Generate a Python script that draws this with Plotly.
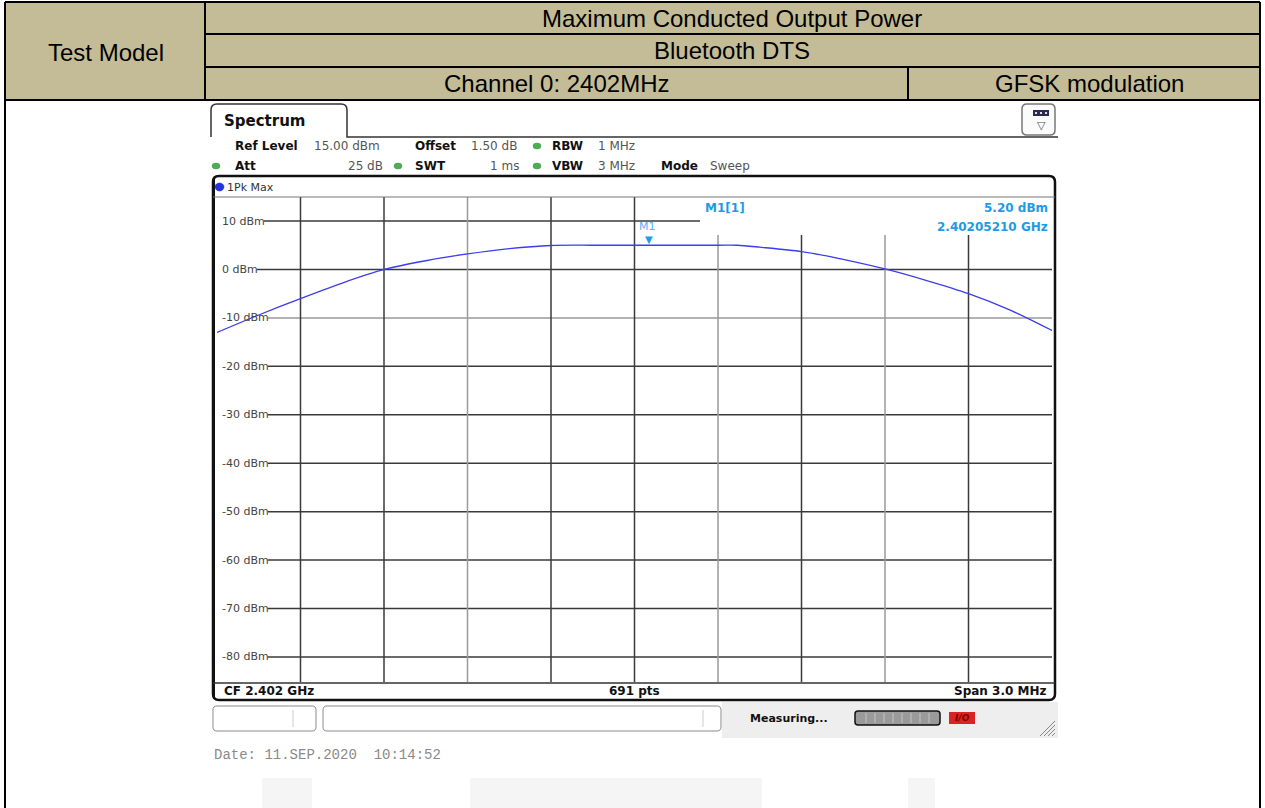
import plotly.graph_objects as go

W, H = 1265, 808

# ---------------- data ----------------
freq_mhz = [2400.50, 2400.65, 2400.80, 2400.95, 2401.10, 2401.25, 2401.40, 2401.55,
            2401.70, 2401.85, 2402.00, 2402.05, 2402.15, 2402.30, 2402.37, 2402.45,
            2402.60, 2402.75, 2402.90, 2403.05, 2403.20, 2403.35, 2403.50]
level_dbm = [-13.0, -9.4, -6.0, -2.8, 0.0, 1.8, 3.2, 4.3,
             4.95, 5.0, 5.0, 5.0, 5.0, 5.0, 5.0, 4.6,
             3.7, 2.1, 0.1, -2.3, -5.0, -8.4, -12.6]
y_tick_vals = [10, 0, -10, -20, -30, -40, -50, -60, -70, -80]
y_tick_text = ["10 dBm", "0 dBm", "-10 dBm", "-20 dBm", "-30 dBm", "-40 dBm",
               "-50 dBm", "-60 dBm", "-70 dBm", "-80 dBm"]
x_grid_mhz = [2400.8, 2401.1, 2401.4, 2401.7, 2402.0, 2402.3, 2402.6, 2402.9, 2403.2]
x_range = [2400.5, 2403.5]
y_range = [-85, 15]
marker_freq_mhz = 2402.0521
marker_level = 5.20

header_title = "Maximum Conducted Output Power"
header_mode = "Bluetooth DTS"
header_channel = "Channel 0: 2402MHz"
header_mod = "GFSK modulation"
header_left = "Test Model"

# ---------------- helpers ----------------
def PX(x):
    return x / W

def PY(y):
    return 1 - y / H

shapes = []
ann = []

def line(x0, y0, x1, y1, color="black", width=2, layer="above"):
    shapes.append(dict(type="line", xref="paper", yref="paper",
                       x0=PX(x0), y0=PY(y0), x1=PX(x1), y1=PY(y1),
                       line=dict(color=color, width=width), layer=layer))

def rect(x0, y0, x1, y1, fill, color=None, width=0, layer="below"):
    shapes.append(dict(type="rect", xref="paper", yref="paper",
                       x0=PX(x0), y0=PY(y0), x1=PX(x1), y1=PY(y1),
                       fillcolor=fill,
                       line=dict(color=color or fill, width=width), layer=layer))

def rrect(x0, y0, x1, y1, r, color, width, fill=None, layer="above"):
    pts = [("M", x0 + r, y0), ("L", x1 - r, y0), ("Q", x1, y0, x1, y0 + r),
           ("L", x1, y1 - r), ("Q", x1, y1, x1 - r, y1), ("L", x0 + r, y1),
           ("Q", x0, y1, x0, y1 - r), ("L", x0, y0 + r), ("Q", x0, y0, x0 + r, y0)]
    p = ""
    for seg in pts:
        if seg[0] == "Q":
            p += "Q%f,%f %f,%f " % (PX(seg[1]), PY(seg[2]), PX(seg[3]), PY(seg[4]))
        else:
            p += "%s%f,%f " % (seg[0], PX(seg[1]), PY(seg[2]))
    p += "Z"
    d = dict(type="path", xref="paper", yref="paper", path=p,
             line=dict(color=color, width=width), layer=layer)
    if fill:
        d["fillcolor"] = fill
    shapes.append(d)

def text(x, y, s, size=12, color="black", bold=False, family="DejaVu Sans", anchor="left"):
    ann.append(dict(xref="paper", yref="paper", x=PX(x), y=PY(y),
                    text=("<b>%s</b>" % s) if bold else s, showarrow=False,
                    xanchor=anchor, yanchor="middle",
                    font=dict(size=size, color=color, family=family)))

# ---------------- table header ----------------
KHAKI = "#C4BC96"
rect(5, 2, 1260, 100, KHAKI)
for (a, b, c, d) in [(5, 2, 1260, 2), (5, 2, 5, 808), (1260, 2, 1260, 808),
                     (5, 100, 1260, 100), (205, 34, 1260, 34), (205, 67, 1260, 67),
                     (205, 2, 205, 100), (908, 67, 908, 100)]:
    line(a, b, c, d, "black", 2)

TF = "Liberation Sans, Arial, sans-serif"
HS = 24
text(106, 52, header_left, HS, "black", family=TF, anchor="center")
text(732, 18, header_title, HS, "black", family=TF, anchor="center")
text(732, 51, header_mode, HS, "black", family=TF, anchor="center")
text(556, 84, header_channel, HS, "black", family=TF, anchor="center")
text(1089, 84, header_mod, HS, "black", family=TF, anchor="center")

# ---------------- spectrum screenshot chrome ----------------
tab = "M%f,%f L%f,%f Q%f,%f %f,%f L%f,%f Q%f,%f %f,%f L%f,%f L%f,%f" % (
    PX(211), PY(137), PX(211), PY(110), PX(211), PY(104), PX(217), PY(104),
    PX(341), PY(104), PX(347), PY(104), PX(347), PY(110), PX(347), PY(137), PX(1058), PY(137))
shapes.append(dict(type="path", xref="paper", yref="paper", path=tab,
                   line=dict(color="#333333", width=1.5), layer="above"))
text(222, 121, "Spectrum", 15, "#111111", bold=True)
rrect(1022, 104, 1055, 135, 5, "#777777", 1.5, fill="#fbfbfb")
rect(1033, 110, 1049, 116, "#2a2a55", layer="above")
for dx in (1036, 1041, 1046):
    rect(dx - 1, 112, dx + 1, 114, "#dddddd", layer="above")
text(1041, 125, "▽", 11, "#555555", anchor="center")

GRAY = "#555555"
FS = 12
text(233, 146, "Ref Level", FS, "#111", bold=True)
text(312, 146, "15.00 dBm", FS, GRAY)
text(413, 146, "Offset", FS, "#111", bold=True)
text(469, 146, "1.50 dB", FS, GRAY)
text(550, 146, "RBW", FS, "#111", bold=True)
text(596, 146, "1 MHz", FS, GRAY)
text(233, 166, "Att", FS, "#111", bold=True)
text(346, 166, "25 dB", FS, GRAY)
text(413, 166, "SWT", FS, "#111", bold=True)
text(488, 166, "1 ms", FS, GRAY)
text(550, 166, "VBW", FS, "#111", bold=True)
text(596, 166, "3 MHz", FS, GRAY)
text(659, 166, "Mode", FS, "#111", bold=True)
text(708, 166, "Sweep", FS, GRAY)
for (cx, cy) in [(537, 146), (216, 166), (398, 166), (537, 166)]:
    shapes.append(dict(type="circle", xref="paper", yref="paper",
                       x0=PX(cx - 4), x1=PX(cx + 4), y0=PY(cy - 3), y1=PY(cy + 3),
                       fillcolor="#4caf50", line=dict(color="#3d8b40", width=0.5)))

rrect(213, 176, 1055, 700, 6, "#111111", 2.5)
line(214, 178, 214, 699, "#111111", 2)
line(213, 197, 1055, 197, "#777777", 1.2)
line(213, 683, 1055, 683, "#333333", 1.5)
shapes.append(dict(type="circle", xref="paper", yref="paper",
                   x0=PX(215), x1=PX(224), y0=PY(183), y1=PY(191),
                   fillcolor="#2233dd", line=dict(color="#1122aa", width=0.5)))
text(225, 187, "1Pk Max", 11, "#333333")

text(222, 691, "CF 2.402 GHz", 12, "#111", bold=True)
text(634, 691, "691 pts", 12, "#111", bold=True, anchor="center")
text(1048, 691, "Span 3.0 MHz", 12, "#111", bold=True, anchor="right")

rect(722, 702, 1058, 738, "#eeeeee")
rrect(213, 706, 316, 731, 4, "#8a8a8a", 1, fill="white")
line(293, 710, 293, 727, "#cccccc", 1)
rrect(323, 706, 721, 731, 4, "#8a8a8a", 1, fill="white")
line(703, 710, 703, 727, "#cccccc", 1)
text(748, 718, "Measuring...", 11, "#111", bold=True)
rrect(855, 711, 940, 725, 3, "#111111", 1.5, fill="#9a9a9a")
for sx in range(866, 932, 9):
    line(sx, 713, sx, 723, "#c4c4c4", 1)
rect(949, 712, 975, 724, "#dd2222", layer="above")
text(962, 718, "<i>I/O</i>", 9, "#7a0000", bold=True, anchor="center")
for k in range(4):
    line(1040 + 4 * k, 736, 1055, 721 + 4 * k, "#888888", 1)

text(212, 755, "Date: 11.SEP.2020  10:14:52", 14, "#8a8a8a",
     family="Liberation Mono, Courier New, monospace")

rect(262, 778, 312, 808, "#f5f5f5")
rect(470, 778, 762, 808, "#f5f5f5")
rect(908, 778, 935, 808, "#f5f5f5")

# ---------------- grid ----------------
char_w = {"-": 0.361, " ": 0.318, "d": 0.635, "B": 0.686, "m": 0.974}
GRID_DARK = "#3a3a3a"
GRID_LIGHT = "#9a9a9a"
for v, t in zip(y_tick_vals, y_tick_text):
    wpx = sum(char_w.get(c, 0.636) for c in t) * 11
    x_start = 220 + wpx + 1
    x_end = 700 if v == 10 else 1052
    shapes.append(dict(type="line", xref="paper", yref="y",
                       x0=PX(x_start), x1=PX(x_end), y0=v, y1=v,
                       line=dict(color=GRID_LIGHT if v == -10 else GRID_DARK, width=1.5),
                       layer="below"))
    ann.append(dict(xref="paper", yref="y", x=PX(220), y=v, text=t, showarrow=False,
                    xanchor="left", yanchor="middle",
                    font=dict(size=11, color="#444444", family="DejaVu Sans")))

light_cols = {2401.4, 2402.3, 2402.9}
for f in x_grid_mhz:
    top_px = 235 if f > 2402.2 else 197
    shapes.append(dict(type="line", xref="x", yref="paper",
                       x0=f, x1=f, y0=PY(682), y1=PY(top_px),
                       line=dict(color=GRID_LIGHT if f in light_cols else GRID_DARK, width=1.5),
                       layer="below"))

# ---------------- marker ----------------
MBLUE = "#1e9be6"
ann.append(dict(xref="x", yref="y", x=marker_freq_mhz, y=marker_level, text="▼",
                showarrow=False, yanchor="bottom", yshift=-3,
                font=dict(size=10, color=MBLUE, family="DejaVu Sans")))
ann.append(dict(xref="x", yref="y", x=marker_freq_mhz, y=marker_level, text="M1",
                showarrow=False, yanchor="bottom", yshift=9, xshift=-2,
                font=dict(size=11, color="#55b5ee", family="DejaVu Sans")))
text(703, 208, "M1[1]", 12, MBLUE, bold=True)
text(1050, 208, "%.2f dBm" % marker_level, 12, MBLUE, bold=True, anchor="right")
text(1050, 227, "%.8f GHz" % (marker_freq_mhz / 1000), 12, MBLUE, bold=True, anchor="right")

# ---------------- figure ----------------
fig = go.Figure()
fig.add_trace(go.Scatter(x=freq_mhz, y=level_dbm, mode="lines",
                         line=dict(color="#3c3cf0", width=1.3, shape="spline", smoothing=0.8),
                         hoverinfo="skip", showlegend=False))
fig.update_layout(
    width=W, height=H, margin=dict(l=0, r=0, t=0, b=0),
    paper_bgcolor="white", plot_bgcolor="white",
    xaxis=dict(range=x_range, domain=[PX(217), PX(1052)], visible=False, fixedrange=True),
    yaxis=dict(range=y_range, domain=[PY(681.2), PY(196.8)], visible=False, fixedrange=True),
    shapes=shapes, annotations=ann, showlegend=False,
)
fig.write_html("out.html", config={"displayModeBar": False},
               post_script="document.body.style.margin='0';document.body.style.overflow='hidden';")
